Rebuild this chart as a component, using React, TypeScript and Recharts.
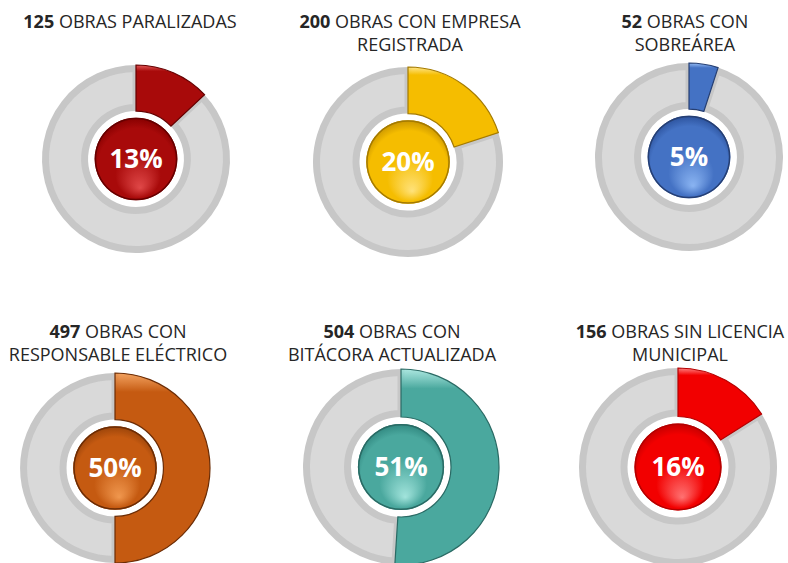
import React from 'react';
import { PieChart, Pie, Cell } from 'recharts';

// indicator values
const counts = [125, 200, 52, 497, 504, 156];
const percents = [13, 20, 5, 50, 51, 16];
const titleLines = [
  ['OBRAS PARALIZADAS'],
  ['OBRAS CON EMPRESA', 'REGISTRADA'],
  ['OBRAS CON', 'SOBREÁREA'],
  ['OBRAS CON', 'RESPONSABLE ELÉCTRICO'],
  ['OBRAS CON', 'BITÁCORA ACTUALIZADA'],
  ['OBRAS SIN LICENCIA', 'MUNICIPAL'],
];

// layout per donut: center, ring radius, title center
const layout = [
  { cx: 136, cy: 159, r: 94, tx: 130, ty: 22 },
  { cx: 408, cy: 162, r: 95, tx: 410, ty: 22 },
  { cx: 689, cy: 157, r: 94, tx: 685, ty: 22 },
  { cx: 115, cy: 468, r: 95, tx: 118, ty: 332 },
  { cx: 401, cy: 467, r: 98, tx: 392, ty: 332 },
  { cx: 678, cy: 467, r: 99, tx: 680, ty: 332 },
];

const palette = [
  { base: '#a80a0a', edge: '#650000', light: '#e04848', dark: '#860000' },
  { base: '#f5bd00', edge: '#a47a00', light: '#ffe27a', dark: '#c99500' },
  { base: '#4472c4', edge: '#263f73', light: '#8ab4f2', dark: '#2c529c' },
  { base: '#c55a11', edge: '#6b2c05', light: '#f0974e', dark: '#9a440a' },
  { base: '#4aa89e', edge: '#2a6a64', light: '#a2e4dc', dark: '#318880' },
  { base: '#f20000', edge: '#b40000', light: '#ff7272', dark: '#c40000' },
];

const GRAY_FILL = '#d9d9d9';
const GRAY_EDGE = '#c7c7c7';
const FONT = '"Open Sans", "Noto Sans", sans-serif';

export default function App() {
  const pies: React.ReactNode[] = [];
  percents.forEach((pct, i) => {
    const { cx, cy, r } = layout[i];
    const c = palette[i];
    const data = [{ name: 'si', value: pct }, { name: 'no', value: 100 - pct }];
    const hole = r * 0.51;
    const band = 7;
    const ball = r * 0.44;
    pies.push(
      <Pie key={'g' + i} data={data} dataKey="value" cx={cx} cy={cy}
        innerRadius={hole + band / 2} outerRadius={r - band / 2}
        startAngle={90} endAngle={-270} isAnimationActive={false}>
        <Cell fill="none" stroke="none" />
        <Cell fill={GRAY_FILL} stroke={GRAY_EDGE} strokeWidth={band} />
      </Pie>
    );
    pies.push(
      <Pie key={'c' + i} data={data} dataKey="value" cx={cx} cy={cy}
        innerRadius={hole} outerRadius={r}
        startAngle={90} endAngle={-270} isAnimationActive={false}>
        <Cell fill={`url(#slice${i})`} stroke={c.edge} strokeWidth={1.2} />
        <Cell fill="none" stroke="none" />
      </Pie>
    );
    pies.push(
      <Pie key={'k' + i} data={[{ name: 'pct', value: 1 }]} dataKey="value" cx={cx} cy={cy}
        innerRadius={0} outerRadius={ball}
        startAngle={90} endAngle={-270} isAnimationActive={false}
        labelLine={false}
        label={(p: any) => (
          <text x={p.cx} y={p.cy} dy={9} textAnchor="middle" fill="#ffffff"
            fontSize={26} fontWeight="bold" fontFamily={FONT}>
            {pct}%
          </text>
        )}>
        <Cell fill={`url(#ball${i})`} stroke="none" />
      </Pie>
    );
    pies.push(
      <Pie key={'o' + i} data={[{ name: 'rim', value: 1 }]} dataKey="value" cx={cx} cy={cy}
        innerRadius={ball - 1.5} outerRadius={ball}
        startAngle={90} endAngle={-270} isAnimationActive={false}>
        <Cell fill={c.edge} stroke="none" />
      </Pie>
    );
  });

  return (
    <div style={{ position: 'absolute', left: 0, top: 0, width: 788, height: 563, background: '#fff', overflow: 'hidden' }}>
      <PieChart width={788} height={563} margin={{ top: 0, right: 0, bottom: 0, left: 0 }}>
        <defs>
          {palette.map((c, i) => (
            <radialGradient key={'b' + i} id={`ball${i}`} cx="50%" cy="55%" r="55%" fx="55%" fy="85%">
              <stop offset="0%" stopColor={c.light} />
              <stop offset="50%" stopColor={c.base} />
              <stop offset="85%" stopColor={c.base} />
              <stop offset="100%" stopColor={c.dark} />
            </radialGradient>
          ))}
          {palette.map((c, i) => (
            <linearGradient key={'s' + i} id={`slice${i}`} x1="0" y1="0" x2="0" y2="1">
              <stop offset="0%" stopColor={c.light} stopOpacity={0.9} />
              <stop offset="10%" stopColor={c.base} />
              <stop offset="100%" stopColor={c.base} />
            </linearGradient>
          ))}
        </defs>
        {pies}
      </PieChart>
      {titleLines.map((lines, i) => (
        <div key={'t' + i} style={{
          position: 'absolute', left: layout[i].tx - 160, width: 320, top: layout[i].ty - 12,
          textAlign: 'center', fontFamily: FONT, fontSize: 18, lineHeight: '23px', color: '#262626',
        }}>
          <div><b>{counts[i]}</b> {lines[0]}</div>
          {lines[1] && <div>{lines[1]}</div>}
        </div>
      ))}
    </div>
  );
}
